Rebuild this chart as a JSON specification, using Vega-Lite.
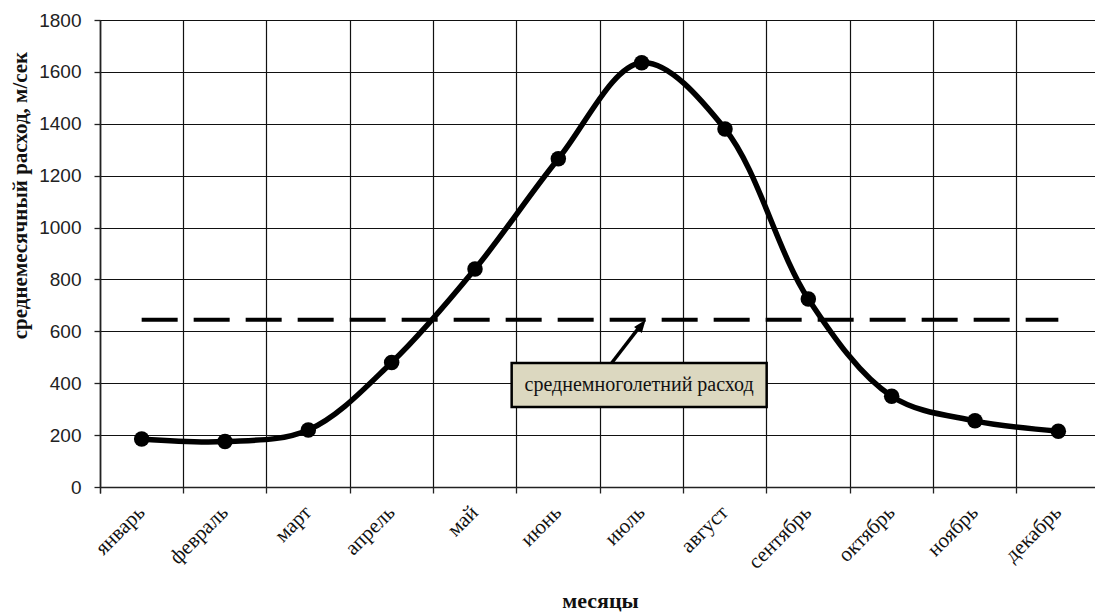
{
  "$schema": "https://vega.github.io/schema/vega-lite/v6.json",
  "width": 1000,
  "height": 467,
  "autosize": {"type": "none"},
  "padding": {"left": 100, "top": 20, "right": 0, "bottom": 126},
  "background": "white",
  "config": {
    "view": {"stroke": null},
    "axis": {"gridColor": "#111", "gridOpacity": 1, "gridWidth": 1.2, "domainColor": "#222", "domainWidth": 1.5, "tickColor": "#222", "tickWidth": 1.3}
  },
  "datasets": {
    "flow": [
      {"month": "январь", "q": 185},
      {"month": "февраль", "q": 175},
      {"month": "март", "q": 220},
      {"month": "апрель", "q": 480},
      {"month": "май", "q": 840},
      {"month": "июнь", "q": 1265},
      {"month": "июль", "q": 1635},
      {"month": "август", "q": 1380},
      {"month": "сентябрь", "q": 725},
      {"month": "октябрь", "q": 350},
      {"month": "ноябрь", "q": 255},
      {"month": "декабрь", "q": 215}
    ],
    "mean": [
      {"month": "январь", "q": 645},
      {"month": "декабрь", "q": 645}
    ]
  },
  "resolve": {"scale": {"x": "independent"}, "axis": {"x": "independent"}},
  "layer": [
    {
      "layer": [
        {
          "data": {"name": "flow"},
          "mark": {"type": "line", "interpolate": "catmull-rom", "color": "black", "strokeWidth": 5.5},
          "encoding": {
            "x": {
              "field": "month", "type": "nominal", "sort": null,
              "scale": {"type": "band", "paddingInner": 0, "paddingOuter": 0},
              "axis": {
                "title": "месяцы", "bandPosition": 0, "grid": true, "tickExtra": true,
                "labelAngle": -45, "labelAlign": "right", "labelBaseline": "middle",
                "labelFont": "Liberation Serif", "labelFontSize": 21, "labelColor": "#111", "labelPadding": 16,
                "tickSize": 6,
                "titleFont": "Liberation Serif", "titleFontSize": 22, "titleFontWeight": "bold", "titleColor": "#111",
                "titleY": 120, "titleBaseline": "alphabetic"
              }
            },
            "y": {
              "field": "q", "type": "quantitative",
              "scale": {"domain": [0, 1800], "nice": false},
              "axis": {
                "title": "среднемесячный расход, м/сек", "values": [0, 200, 400, 600, 800, 1000, 1200, 1400, 1600, 1800], "format": "d",
                "grid": true, "labelFont": "Liberation Sans", "labelFontSize": 19, "labelColor": "#222", "labelPadding": 13, "tickSize": 6,
                "titleFont": "Liberation Serif", "titleFontSize": 21, "titleFontWeight": "bold", "titleColor": "#111",
                "titleX": -74, "titleY": 175, "titleAlign": "center", "titleBaseline": "alphabetic", "titleAngle": -90
              }
            }
          }
        },
        {
          "data": {"name": "flow"},
          "mark": {"type": "point", "filled": true, "color": "black", "opacity": 1, "size": 240},
          "encoding": {
            "x": {"field": "month", "type": "nominal", "sort": null},
            "y": {"field": "q", "type": "quantitative"}
          }
        },
        {
          "data": {"name": "mean"},
          "mark": {"type": "line", "color": "black", "strokeWidth": 4, "strokeDash": [36, 16]},
          "encoding": {
            "x": {"field": "month", "type": "nominal", "sort": null},
            "y": {"field": "q", "type": "quantitative"}
          }
        }
      ]
    },
    {
      "data": {"values": [{"label": "среднемноголетний расход"}]},
      "layer": [
        {
          "mark": {"type": "rule", "color": "black", "strokeWidth": 3.5},
          "encoding": {
            "x": {"datum": 6.14, "type": "quantitative", "scale": {"domain": [0, 12], "nice": false, "zero": false}, "axis": null},
            "y": {"datum": 478, "type": "quantitative"},
            "x2": {"datum": 6.47},
            "y2": {"datum": 615}
          }
        },
        {
          "mark": {"type": "point", "shape": "M0,-1L0.6,0.6L-0.6,0.6Z", "filled": true, "color": "black", "opacity": 1, "size": 260, "angle": 37},
          "encoding": {
            "x": {"datum": 6.49, "type": "quantitative"},
            "y": {"datum": 620, "type": "quantitative"}
          }
        },
        {
          "mark": {"type": "rect", "fill": "#dcd8c0", "stroke": "black", "strokeWidth": 2.5},
          "encoding": {
            "x": {"datum": 4.94, "type": "quantitative"},
            "x2": {"datum": 8.0},
            "y": {"datum": 308, "type": "quantitative"},
            "y2": {"datum": 478}
          }
        },
        {
          "mark": {"type": "text", "font": "Liberation Serif", "fontSize": 20, "color": "#111"},
          "encoding": {
            "x": {"datum": 6.47, "type": "quantitative"},
            "y": {"datum": 393, "type": "quantitative"},
            "text": {"field": "label"}
          }
        }
      ]
    }
  ]
}
